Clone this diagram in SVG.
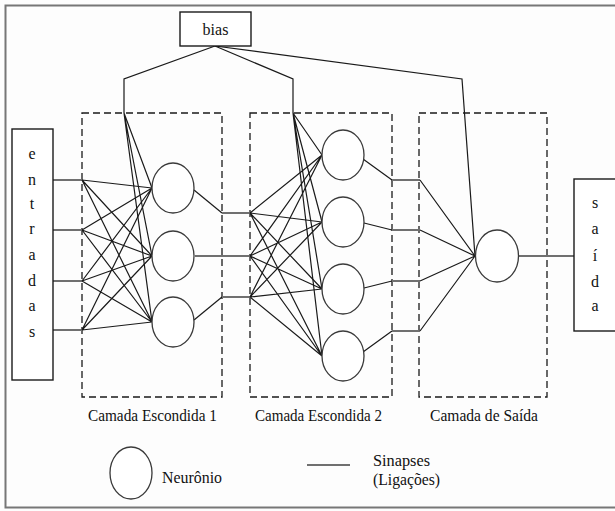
<svg xmlns="http://www.w3.org/2000/svg" width="615" height="511" viewBox="0 0 615 511">
<style>
.t{font-family:'Liberation Serif','Times New Roman','DejaVu Serif',serif;font-size:16px;fill:#111}
.l{font-family:'Liberation Serif','Times New Roman','DejaVu Serif',serif;font-size:16px;fill:#111;text-anchor:middle}
.ln{stroke:#1a1a1a;stroke-width:1.2;fill:none}
.g{stroke:#707070;stroke-width:2.2;fill:none}
.n{fill:#fff;stroke:#3a3a3a;stroke-width:1.3}
.box{fill:#fff;stroke:#1a1a1a;stroke-width:1.4}
.dash{fill:none;stroke:#1a1a1a;stroke-width:1.3;stroke-dasharray:7,4}
</style>
<rect x="0" y="0" width="615" height="511" fill="#fdfdfd"/>
<rect x="5.5" y="5.5" width="625" height="502" fill="none" stroke="#777" stroke-width="2"/>

<g id="layers">
<rect class="dash" x="82" y="113" width="140" height="284"/>
<rect class="dash" x="250" y="113" width="142" height="284"/>
<rect class="dash" x="419" y="113" width="128" height="284"/>
</g>

<g id="connectors">
<polyline class="ln" points="215,46 124,79 124,113"/>
<polyline class="ln" points="215,46 293,79 293,113"/>
<polyline class="ln" points="215,46 462,79 475,256"/>
<path class="ln" d="M124,113L152,188M124,113L152,256M124,113L152,322"/>
<path class="ln" d="M293,113L322,155M293,113L322,222M293,113L322,289M293,113L322,356"/>
<path class="g" d="M53,180H82M53,230H82M53,281H82M53,330H82"/>
<path class="ln" d="M82,180L152,188M82,180L152,256M82,180L152,322
M82,230L152,188M82,230L152,256M82,230L152,322
M82,281L152,188M82,281L152,256M82,281L152,322
M82,330L152,188M82,330L152,256M82,330L152,322"/>
<polyline class="ln" points="194,190 222,213"/>
<polyline class="ln" points="194,320 222,297"/>
<path class="g" d="M222,213H250M195,256H250M222,297H250"/>
<path class="ln" d="M250,213L322,155M250,213L322,222M250,213L322,289M250,213L322,356
M250,256L322,155M250,256L322,222M250,256L322,289M250,256L322,356
M250,297L322,155M250,297L322,222M250,297L322,289M250,297L322,356"/>
<path class="ln" d="M363,159L392,180M364,223L392,230M364,288L392,281M363,352L392,331"/>
<path class="g" d="M392,180H420M392,230H420M392,281H420M392,331H420"/>
<path class="ln" d="M420,180L475,256M420,230L475,256M420,281L475,256M420,331L475,256"/>
<path class="g" d="M518,256H574"/>
</g>

<g id="bias">
<rect class="box" x="180" y="12" width="71" height="34"/>
<text class="t" x="215.5" y="35" text-anchor="middle">bias</text>
</g>

<g id="entradas">
<rect class="box" x="12" y="129" width="41" height="251"/>
<text class="l" x="32" y="159">e</text>
<text class="l" x="32" y="185">n</text>
<text class="l" x="32" y="209">t</text>
<text class="l" x="32" y="234">r</text>
<text class="l" x="32" y="260">a</text>
<text class="l" x="32" y="286">d</text>
<text class="l" x="32" y="311">a</text>
<text class="l" x="32" y="337">s</text>
</g>

<g id="saida">
<rect class="box" x="574" y="179" width="60" height="152"/>
<text class="l" x="595" y="208">s</text>
<text class="l" x="595" y="234">a</text>
<text class="l" x="595" y="261">í</text>
<text class="l" x="595" y="287">d</text>
<text class="l" x="595" y="311">a</text>
</g>

<g id="h1n1"><ellipse class="n" cx="173" cy="188" rx="21" ry="25"/></g>
<g id="h1n2"><ellipse class="n" cx="173" cy="256" rx="21" ry="25"/></g>
<g id="h1n3"><ellipse class="n" cx="173" cy="322" rx="21" ry="25"/></g>
<g id="h2n1"><ellipse class="n" cx="343" cy="155" rx="21" ry="25"/></g>
<g id="h2n2"><ellipse class="n" cx="343" cy="222" rx="21" ry="25"/></g>
<g id="h2n3"><ellipse class="n" cx="343" cy="289" rx="21" ry="25"/></g>
<g id="h2n4"><ellipse class="n" cx="343" cy="356" rx="21" ry="25"/></g>
<g id="out"><ellipse class="n" cx="497" cy="256" rx="21.5" ry="26"/></g>

<g id="labels">
<text class="t" x="88" y="421" textLength="129" lengthAdjust="spacingAndGlyphs">Camada Escondida 1</text>
<text class="t" x="255" y="421" textLength="127" lengthAdjust="spacingAndGlyphs">Camada Escondida 2</text>
<text class="t" x="430" y="421" textLength="108" lengthAdjust="spacingAndGlyphs">Camada de Saída</text>
</g>

<g id="legend">
<ellipse class="n" cx="131" cy="473" rx="21" ry="26"/>
<text class="t" x="162" y="483" textLength="60" lengthAdjust="spacingAndGlyphs">Neurônio</text>
<line class="g" x1="307" y1="465" x2="350" y2="465"/>
<text class="t" x="373" y="466" textLength="57" lengthAdjust="spacingAndGlyphs">Sinapses</text>
<text class="t" x="373" y="485" textLength="67" lengthAdjust="spacingAndGlyphs">(Ligações)</text>
</g>
</svg>
